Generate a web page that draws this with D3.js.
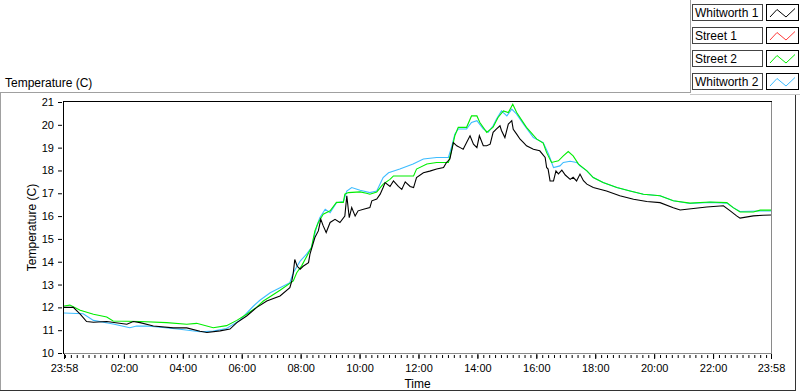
<!DOCTYPE html>
<html>
<head>
<meta charset="utf-8">
<script src="https://cdn.jsdelivr.net/npm/d3@7"></script>
<style>
  body { margin: 0; background: #fff; }
  svg { display: block; font-family: "Liberation Sans", Arial, sans-serif; }
</style>
</head>
<body>
<div id="chart"></div>
<script>
// series names / colours, in legend order
const seriesNames = ["Whitworth 1", "Street 1", "Street 2", "Whitworth 2"];
const seriesColors = ["#000000", "#ff3a3a", "#00ee00", "#3cbcff"];

const yTicks = [10, 11, 12, 13, 14, 15, 16, 17, 18, 19, 20, 21];
const xTickTimes = ["23:58", "02:00", "04:00", "06:00", "08:00", "10:00", "12:00",
  "14:00", "16:00", "18:00", "20:00", "22:00", "23:58"];

// [time, temperature]  (first "23:58" is the day before)
const whitworth1 = [
  ["23:58", 12.0], ["00:17", 12.0], ["00:31", 11.7], ["00:44", 11.38], ["00:58", 11.35],
  ["01:25", 11.38], ["02:06", 11.26], ["02:19", 11.38], ["02:33", 11.33], ["03:00", 11.18],
  ["03:41", 11.1], ["04:08", 11.1], ["04:35", 10.95], ["04:49", 10.9], ["05:16", 10.97],
  ["05:36", 11.05], ["05:50", 11.33], ["06:10", 11.62], ["06:30", 11.99], ["06:51", 12.28],
  ["07:18", 12.5], ["07:38", 12.86], ["07:42", 13.16], ["07:45", 13.5], ["07:48", 14.1],
  ["07:53", 13.8], ["07:59", 13.67], ["08:05", 13.8], ["08:16", 13.96], ["08:19", 14.33],
  ["08:29", 15.06], ["08:36", 15.35], ["08:41", 15.86], ["08:46", 15.57], ["08:52", 15.28],
  ["09:00", 15.72], ["09:10", 15.86], ["09:20", 15.72], ["09:30", 16.0], ["09:34", 16.89],
  ["09:39", 15.93], ["09:44", 16.37], ["09:51", 16.0], ["09:57", 16.23], ["10:08", 16.3],
  ["10:21", 16.37], ["10:25", 16.67], ["10:35", 16.75], ["10:42", 16.96], ["10:48", 17.25],
  ["10:52", 17.47], ["11:02", 17.3], ["11:09", 17.54], ["11:19", 17.3], ["11:26", 17.17],
  ["11:33", 17.5], ["11:43", 17.3], ["11:50", 17.25], ["11:56", 17.69], ["12:10", 17.9],
  ["12:23", 17.97], ["12:37", 18.06], ["12:51", 18.13], ["12:57", 18.35], ["13:04", 18.5],
  ["13:11", 19.22], ["13:18", 19.08], ["13:25", 19.0], ["13:31", 18.93], ["13:38", 19.22],
  ["13:45", 19.52], ["13:52", 19.15], ["13:59", 19.0], ["14:04", 19.52], ["14:12", 19.08],
  ["14:19", 19.08], ["14:26", 19.15], ["14:32", 19.67], ["14:39", 19.82], ["14:46", 19.96],
  ["14:49", 19.75], ["14:56", 19.44], ["15:03", 20.03], ["15:10", 20.18], ["15:13", 19.8],
  ["15:20", 19.59], ["15:27", 19.37], ["15:34", 19.22], ["15:40", 19.08], ["15:54", 18.93],
  ["16:07", 18.86], ["16:18", 18.57], ["16:21", 18.13], ["16:24", 18.06], ["16:28", 17.54],
  ["16:35", 17.54], ["16:40", 17.98], ["16:45", 17.85], ["16:52", 18.01], ["16:59", 17.8],
  ["17:09", 17.61], ["17:15", 17.7], ["17:22", 17.54], ["17:29", 17.84], ["17:36", 17.55],
  ["17:43", 17.4], ["17:56", 17.25], ["18:23", 17.1], ["18:50", 16.89], ["19:18", 16.74],
  ["19:45", 16.64], ["20:12", 16.59], ["20:39", 16.37], ["20:53", 16.27], ["21:20", 16.33],
  ["21:47", 16.4], ["22:21", 16.45], ["22:35", 16.23], ["22:48", 16.01], ["22:55", 15.91],
  ["23:22", 16.01], ["23:42", 16.04], ["23:58", 16.05]
];

// no visible trace for Street 1
const street1 = [];

const street2 = [
  ["23:58", 12.06], ["00:10", 12.1], ["00:31", 11.87], ["00:58", 11.7], ["01:25", 11.58],
  ["01:38", 11.4], ["02:33", 11.38], ["03:27", 11.33], ["04:08", 11.26], ["04:28", 11.3],
  ["05:02", 11.11], ["05:29", 11.2], ["05:50", 11.43], ["06:10", 11.7], ["06:30", 12.0],
  ["06:44", 12.28], ["07:18", 12.75], ["07:45", 13.16], ["07:52", 13.52], ["08:02", 13.82],
  ["08:22", 14.62], ["08:29", 15.35], ["08:36", 15.72], ["08:46", 16.08], ["09:00", 16.23],
  ["09:13", 16.6], ["09:27", 16.6], ["09:30", 16.96], ["09:37", 17.03], ["10:01", 17.06],
  ["10:14", 17.0], ["10:21", 16.96], ["10:35", 17.06], ["10:48", 17.4], ["11:02", 17.61],
  ["11:09", 17.76], ["11:50", 17.76], ["11:56", 18.06], ["12:17", 18.28], ["12:37", 18.35],
  ["13:01", 18.35], ["13:08", 18.93], ["13:14", 19.52], ["13:21", 19.89], ["13:38", 19.89],
  ["13:48", 20.39], ["13:59", 20.39], ["14:05", 20.1], ["14:19", 19.67], ["14:32", 19.9],
  ["14:42", 20.32], ["14:53", 20.61], ["15:03", 20.54], ["15:12", 20.9], ["15:20", 20.54],
  ["15:40", 19.89], ["16:01", 19.37], ["16:14", 19.2], ["16:21", 18.78], ["16:31", 18.35],
  ["16:45", 18.42], ["16:55", 18.64], ["17:05", 18.83], ["17:15", 18.64], ["17:26", 18.28],
  ["17:43", 17.98], ["17:56", 17.69], ["18:16", 17.47], ["18:44", 17.25], ["19:11", 17.1],
  ["19:38", 16.96], ["20:12", 16.89], ["20:39", 16.67], ["21:13", 16.57], ["21:54", 16.62],
  ["22:28", 16.59], ["22:41", 16.37], ["22:55", 16.18], ["23:22", 16.18], ["23:36", 16.26],
  ["23:58", 16.26]
];

const whitworth2 = [
  ["23:58", 11.75], ["00:37", 11.72], ["00:58", 11.43], ["01:38", 11.27], ["02:12", 11.11],
  ["02:26", 11.18], ["02:46", 11.18], ["03:14", 11.13], ["03:54", 11.04], ["04:35", 10.93],
  ["05:02", 10.96], ["05:29", 11.07], ["05:56", 11.43], ["06:24", 12.06], ["06:37", 12.31],
  ["06:58", 12.64], ["07:18", 12.86], ["07:38", 13.08], ["07:45", 13.52], ["07:59", 14.03],
  ["08:12", 14.33], ["08:22", 14.62], ["08:33", 15.57], ["08:39", 15.93], ["08:50", 16.3],
  ["09:00", 16.15], ["09:13", 16.59], ["09:27", 16.64], ["09:34", 17.1], ["09:44", 17.25],
  ["10:01", 17.13], ["10:21", 17.03], ["10:35", 17.1], ["10:48", 17.69], ["10:59", 17.9],
  ["11:22", 18.06], ["11:49", 18.28], ["12:10", 18.5], ["12:37", 18.57], ["13:01", 18.57],
  ["13:08", 19.08], ["13:14", 19.59], ["13:21", 19.82], ["13:38", 19.82], ["13:48", 20.1],
  ["13:59", 20.18], ["14:12", 19.82], ["14:22", 19.67], ["14:32", 19.96], ["14:39", 20.25],
  ["14:49", 20.61], ["15:00", 20.39], ["15:10", 20.69], ["15:20", 20.47], ["15:34", 20.03],
  ["15:54", 19.44], ["16:14", 19.22], ["16:25", 18.71], ["16:35", 18.13], ["16:48", 18.2],
  ["16:55", 18.35], ["17:09", 18.4], ["17:22", 18.35], ["17:29", 18.2], ["17:43", 17.98],
  ["17:56", 17.69], ["18:16", 17.47], ["18:44", 17.25], ["19:11", 17.1], ["19:38", 16.96],
  ["20:12", 16.89], ["20:39", 16.67], ["21:13", 16.55], ["21:54", 16.6], ["22:28", 16.57],
  ["22:41", 16.37], ["22:55", 16.2], ["23:36", 16.22], ["23:58", 16.22]
];

const allSeries = [whitworth1, street1, street2, whitworth2];

// first "23:58" of a list belongs to the previous day
function toDate(s, i) {
  const [h, m] = s.split(":").map(Number);
  const day = (i === 0 && h === 23) ? 1 : 2;
  return new Date(2000, 0, day, h, m);
}

const width = 800, height = 392;
const plot = { left: 64, right: 771, top: 102, bottom: 353 };

const svg = d3.select("#chart").append("svg")
  .attr("width", width)
  .attr("height", height);

// outer panel borders
svg.append("line").attr("x1", 0).attr("x2", 690).attr("y1", 92.5).attr("y2", 92.5).attr("stroke", "#a0a0a0");
svg.append("line").attr("x1", 0.5).attr("x2", 0.5).attr("y1", 92.5).attr("y2", 391).attr("stroke", "#a0a0a0");
svg.append("line").attr("x1", 795.5).attr("x2", 795.5).attr("y1", 95).attr("y2", 391).attr("stroke", "#333");
svg.append("line").attr("x1", 0).attr("x2", 796).attr("y1", 390.5).attr("y2", 390.5).attr("stroke", "#333");
svg.append("line").attr("x1", 690.5).attr("x2", 690.5).attr("y1", 0).attr("y2", 93).attr("stroke", "#a0a0a0");
svg.append("line").attr("x1", 690).attr("x2", 800).attr("y1", 94.5).attr("y2", 94.5).attr("stroke", "#c8c8c8");

svg.append("text")
  .attr("x", 5).attr("y", 87)
  .attr("font-size", 12)
  .text("Temperature (C)");

const x = d3.scaleTime()
  .domain([toDate(xTickTimes[0], 0), toDate(xTickTimes[xTickTimes.length - 1], 1)])
  .range([plot.left, plot.right]);

const y = d3.scaleLinear()
  .domain([d3.min(yTicks), d3.max(yTicks)])
  .range([plot.bottom, plot.top]);

// plot frame: gray right/bottom, black left/top
svg.append("line").attr("x1", plot.right + 0.5).attr("x2", plot.right + 0.5)
  .attr("y1", plot.top).attr("y2", plot.bottom + 1).attr("stroke", "#8a8a8a");
svg.append("line").attr("x1", plot.left).attr("x2", plot.right + 1)
  .attr("y1", plot.bottom + 0.5).attr("y2", plot.bottom + 0.5).attr("stroke", "#8a8a8a");

svg.append("clipPath").attr("id", "clip")
  .append("rect")
  .attr("x", plot.left).attr("y", plot.top - 1)
  .attr("width", plot.right - plot.left).attr("height", plot.bottom - plot.top + 2);

const line = d3.line()
  .x(d => x(d.t))
  .y(d => y(d.v));

// draw blue first, black last
const drawOrder = [3, 1, 2, 0];
const lines = svg.append("g").attr("clip-path", "url(#clip)");
drawOrder.forEach(k => {
  const pts = allSeries[k].map((d, i) => ({ t: toDate(d[0], i), v: d[1] }));
  if (!pts.length) return;
  lines.append("path")
    .datum(pts)
    .attr("fill", "none")
    .attr("stroke", seriesColors[k])
    .attr("stroke-width", 1.1)
    .attr("d", line);
});

svg.append("line").attr("x1", plot.left - 0.5).attr("x2", plot.left - 0.5)
  .attr("y1", plot.top - 1).attr("y2", plot.bottom + 1).attr("stroke", "#000");
svg.append("line").attr("x1", plot.left - 1).attr("x2", plot.right + 1)
  .attr("y1", plot.top - 0.5).attr("y2", plot.top - 0.5).attr("stroke", "#000");

// y axis
const yAxis = d3.axisLeft(y)
  .tickValues(yTicks)
  .tickSize(4)
  .tickPadding(4)
  .tickFormat(d3.format("d"));

const yg = svg.append("g")
  .attr("transform", `translate(${plot.left - 2},0)`)
  .call(yAxis);
yg.select(".domain").remove();
yg.selectAll("text").attr("font-size", 11).attr("font-family", "Liberation Sans, Arial, sans-serif").attr("fill", "#000");

// x axis: major ticks plus 12 minute minor ticks
const xMajor = xTickTimes.map((s, i) => toDate(s, i));
const xMinor = d3.timeMinute.every(12).range(x.domain()[0], x.domain()[1]);

const xMinorAxis = d3.axisBottom(x)
  .tickValues(xMinor)
  .tickSize(3)
  .tickFormat("");
const xmg = svg.append("g")
  .attr("transform", `translate(0,${plot.bottom + 2})`)
  .call(xMinorAxis);
xmg.select(".domain").remove();

const xAxis = d3.axisBottom(x)
  .tickValues(xMajor)
  .tickSize(5)
  .tickPadding(5)
  .tickFormat(d3.timeFormat("%H:%M"));
const xg = svg.append("g")
  .attr("transform", `translate(0,${plot.bottom + 1})`)
  .call(xAxis);
xg.select(".domain").remove();
xg.selectAll("text").attr("font-size", 11).attr("font-family", "Liberation Sans, Arial, sans-serif").attr("fill", "#000");

// axis titles
svg.append("text")
  .attr("x", (plot.left + plot.right) / 2)
  .attr("y", 388)
  .attr("text-anchor", "middle")
  .attr("font-size", 12)
  .text("Time");

svg.append("text")
  .attr("transform", `translate(36,${(plot.top + plot.bottom) / 2}) rotate(-90)`)
  .attr("text-anchor", "middle")
  .attr("font-size", 12)
  .text("Temperature (C)");

// legend
const legend = svg.append("g");
seriesNames.forEach((name, i) => {
  const top = 3.5 + i * 23.3;
  const row = legend.append("g").attr("transform", `translate(0,${Math.round(top) + 0.5})`);
  row.append("rect")
    .attr("x", 692.5).attr("y", 0)
    .attr("width", 70).attr("height", 16)
    .attr("fill", "#fff").attr("stroke", "#444");
  row.append("text")
    .attr("x", 695).attr("y", 12.5)
    .attr("font-size", 12)
    .text(name);
  row.append("rect")
    .attr("x", 766.5).attr("y", 0)
    .attr("width", 32).attr("height", 16)
    .attr("fill", "#fff").attr("stroke", "#000");
  row.append("path")
    .attr("d", d3.line()([[770, 12.5], [777, 5], [786, 12.5], [795, 4]]))
    .attr("fill", "none")
    .attr("stroke", seriesColors[i])
    .attr("stroke-width", 1);
});
</script>
</body>
</html>
